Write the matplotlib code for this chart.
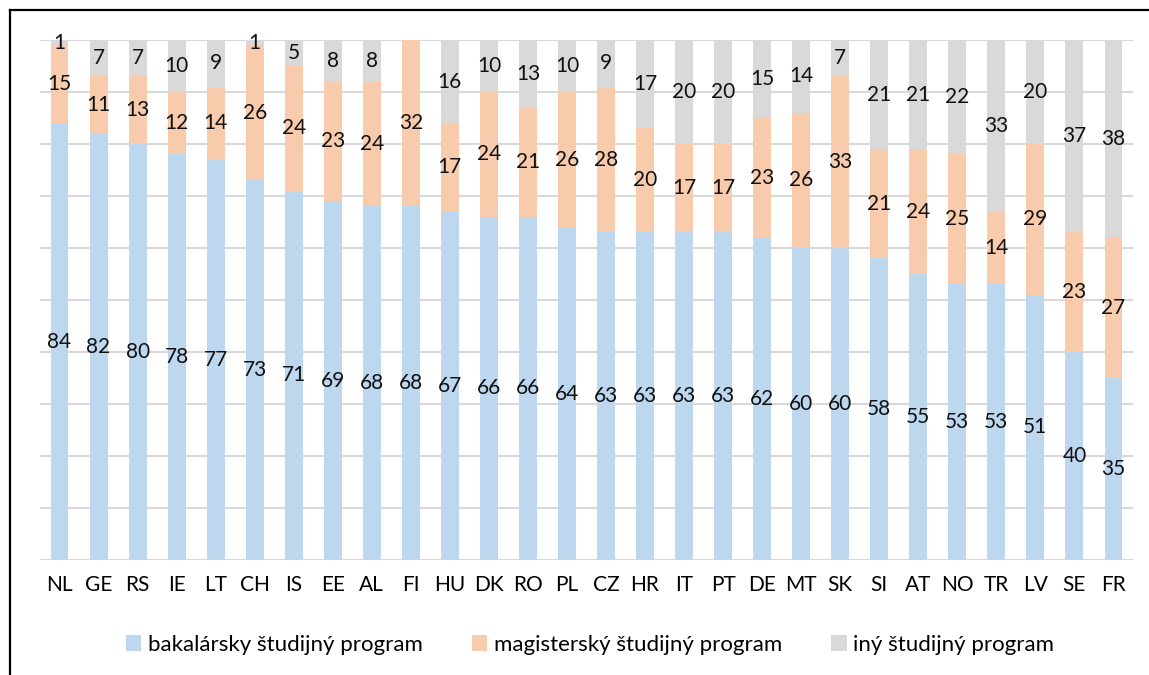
import matplotlib.pyplot as plt
import numpy as np

plt.rcParams["font.family"] = ["Lato", "DejaVu Sans"]

# Countries and shares (%) of each programme type
countries = ["NL", "GE", "RS", "IE", "LT", "CH", "IS", "EE", "AL", "FI",
             "HU", "DK", "RO", "PL", "CZ", "HR", "IT", "PT", "DE", "MT",
             "SK", "SI", "AT", "NO", "TR", "LV", "SE", "FR"]
bachelor = [84, 82, 80, 78, 77, 73, 71, 69, 68, 68,
            67, 66, 66, 64, 63, 63, 63, 63, 62, 60,
            60, 58, 55, 53, 53, 51, 40, 35]
master = [15, 11, 13, 12, 14, 26, 24, 23, 24, 32,
          17, 24, 21, 26, 28, 20, 17, 17, 23, 26,
          33, 21, 24, 25, 14, 29, 23, 27]
other = [1, 7, 7, 10, 9, 1, 5, 8, 8, 0,
         16, 10, 13, 10, 9, 17, 20, 20, 15, 14,
         7, 21, 21, 22, 33, 20, 37, 38]

series_names = ["bakalársky študijný program",
                "magisterský študijný program",
                "iný študijný program"]
colors = ["#BDD7EE", "#F8CBAD", "#D9D9D9"]


def main() -> None:
    fig = plt.figure(figsize=(11.49, 6.75), dpi=100)
    ax = fig.add_axes([40 / 1149, 115 / 675, 1093 / 1149, 520 / 675])

    x = np.arange(len(countries))
    bottom = np.zeros(len(countries))
    for vals, name, col in zip([bachelor, master, other], series_names, colors):
        vals = np.array(vals, dtype=float)
        ax.bar(x, vals, bottom=bottom, width=0.46, color=col, label=name,
               zorder=2)
        for xi, b, v in zip(x, bottom, vals):
            if v > 0:
                ax.text(xi, b + v / 2, f"{int(v)}", ha="center", va="center",
                        fontsize=15, color="#111111", zorder=3)
        bottom += vals

    ax.set_xlim(-0.5, len(countries) - 0.5)
    ax.set_ylim(0, 100)
    ax.set_yticks(np.arange(0, 101, 10))
    ax.set_yticklabels([])
    ax.tick_params(axis="y", length=0)
    ax.tick_params(axis="x", length=0, pad=11, labelsize=15)
    ax.set_xticks(x)
    ax.set_xticklabels(countries)
    ax.grid(axis="y", color="#D9D9D9", linewidth=1.5, zorder=0)
    for s in ax.spines.values():
        s.set_visible(False)

    fig.legend(loc="center", bbox_to_anchor=(590 / 1149, 1 - 645 / 675),
               ncol=3, frameon=False, fontsize=16, handlelength=0.7,
               handleheight=0.7, handletextpad=0.3, columnspacing=2.2)

    # outer frame (only left and top edges visible)
    fig.add_artist(plt.Line2D([10 / 1149, 10 / 1149], [0, 1 - 10 / 675],
                              transform=fig.transFigure, color="black", lw=1.6))
    fig.add_artist(plt.Line2D([10 / 1149, 1], [1 - 10 / 675, 1 - 10 / 675],
                              transform=fig.transFigure, color="black", lw=1.6))

    fig.savefig("out.png", dpi=100)


if __name__ == "__main__":
    main()
